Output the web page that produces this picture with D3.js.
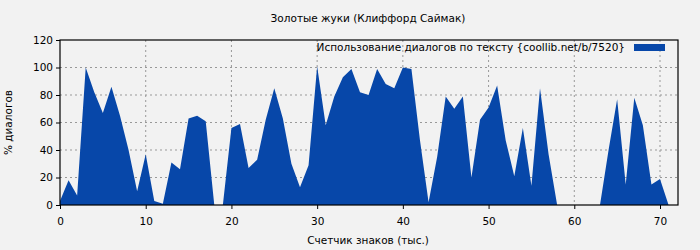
<!DOCTYPE html>
<html>
<head>
<meta charset="utf-8">
<script src="https://cdn.jsdelivr.net/npm/d3@7"></script>
<style>
  body { margin: 0; background: #f2f2f2; }
  svg { display: block; font-family: "DejaVu Sans", sans-serif; }
</style>
</head>
<body>
<svg id="chart"></svg>
<script>
// данные
const chartTitle = "Золотые жуки (Клиффорд Саймак)";
const legendLabel = "Использование диалогов по тексту {coollib.net/b/7520}";
const xTicks = [0, 10, 20, 30, 40, 50, 60, 70];
const yTicks = [0, 20, 40, 60, 80, 100, 120];
const xValues = [0, 1, 2, 3, 4, 5, 6, 7, 8, 9, 10, 11, 12, 13, 14, 15, 16, 17, 18, 19,
    20, 21, 22, 23, 24, 25, 26, 27, 28, 29, 30, 31, 32, 33, 34, 35, 36, 37, 38, 39,
    40, 41, 42, 43, 44, 45, 46, 47, 48, 49, 50, 51, 52, 53, 54, 55, 56, 57, 58, 59,
    60, 61, 62, 63, 64, 65, 66, 67, 68, 69, 70, 71];
const dialogPct = [3, 18, 7, 100, 82, 67, 86, 65, 40, 10, 37, 3, 1, 31, 26, 63, 65, 61, 0, 0,
    56, 59, 27, 33, 62, 85, 63, 30, 13, 29, 101, 58, 79, 93, 99, 82, 80, 99, 88, 85,
    100, 99, 47, 2, 35, 79, 70, 79, 20, 62, 71, 87, 47, 21, 56, 14, 85, 37, 0, 0,
    0, 0, 0, 0, 40, 77, 15, 78, 58, 15, 19, 0];

const width = 700;
const height = 250;
const marginLeft = 60;
const marginRight = 22;
const marginTop = 40;
const marginBottom = 45;
const fontSize = 10.5;

let svg = d3.select("#chart")
    .attr("width", width)
    .attr("height", height);

svg.append("rect")
    .attr("width", width)
    .attr("height", height)
    .attr("fill", "#f2f2f2");

let scX = d3.scaleLinear()
    .domain([0, 72.1])
    .range([marginLeft, width - marginRight]);

let scY = d3.scaleLinear()
    .domain([0, 120])
    .range([height - marginBottom, marginTop]);

// сетка
svg.append("g")
    .selectAll("line")
    .data(xTicks.filter(d => d > 0))
    .enter()
    .append("line")
    .attr("x1", d => scX(d)).attr("x2", d => scX(d))
    .attr("y1", marginTop).attr("y2", height - marginBottom)
    .attr("stroke", "#999").attr("stroke-dasharray", "2,3");

svg.append("g")
    .selectAll("line")
    .data(yTicks.filter(d => d > 0 && d < 120))
    .enter()
    .append("line")
    .attr("x1", marginLeft).attr("x2", width - marginRight)
    .attr("y1", d => scY(d)).attr("y2", d => scY(d))
    .attr("stroke", "#999").attr("stroke-dasharray", "2,3");

// область
let points = xValues.map((x, i) => ({ x: x, y: dialogPct[i] }));
let area = d3.area()
    .x(d => scX(d.x))
    .y0(scY(0))
    .y1(d => scY(d.y));

svg.append("path")
    .datum(points)
    .attr("d", area)
    .attr("fill", "#0747a9");

// оси
let axisX = d3.axisBottom(scX).tickValues(xTicks).tickSize(4).tickSizeOuter(0);
let axisY = d3.axisLeft(scY).tickValues(yTicks).tickSize(4).tickSizeOuter(0);

let gx = svg.append("g")
    .attr("transform", `translate(0, ${height - marginBottom})`)
    .call(axisX);
let gy = svg.append("g")
    .attr("transform", `translate(${marginLeft}, 0)`)
    .call(axisY);

[gx, gy].forEach(g => {
    g.select(".domain").remove();
    g.selectAll("text").attr("font-size", fontSize).attr("fill", "#000")
        .attr("font-family", "DejaVu Sans, sans-serif");
    g.selectAll("line").attr("stroke", "#000");
});
gx.selectAll("text").attr("dy", "1.2em");

// рамка
svg.append("rect")
    .attr("x", marginLeft)
    .attr("y", marginTop)
    .attr("width", width - marginRight - marginLeft)
    .attr("height", height - marginBottom - marginTop)
    .attr("fill", "none")
    .attr("stroke", "#000")
    .attr("stroke-width", 1.2);

// подписи
let midX = (marginLeft + width - marginRight) / 2;
svg.append("text")
    .attr("x", midX - 1).attr("y", 22)
    .attr("text-anchor", "middle")
    .attr("font-size", fontSize)
    .text(chartTitle);

svg.append("text")
    .attr("x", midX - 1).attr("y", 244)
    .attr("text-anchor", "middle")
    .attr("font-size", fontSize)
    .text("Счетчик знаков (тыс.)");

svg.append("text")
    .attr("transform", `translate(12, ${(marginTop + height - marginBottom) / 2}) rotate(-90)`)
    .attr("text-anchor", "middle")
    .attr("font-size", fontSize)
    .text("% диалогов");

// легенда
svg.append("text")
    .attr("x", 625).attr("y", 51)
    .attr("text-anchor", "end")
    .attr("font-size", fontSize)
    .text(legendLabel);

svg.append("rect")
    .attr("x", 634).attr("y", 44)
    .attr("width", 31).attr("height", 7)
    .attr("fill", "#0747a9");
</script>
</body>
</html>
